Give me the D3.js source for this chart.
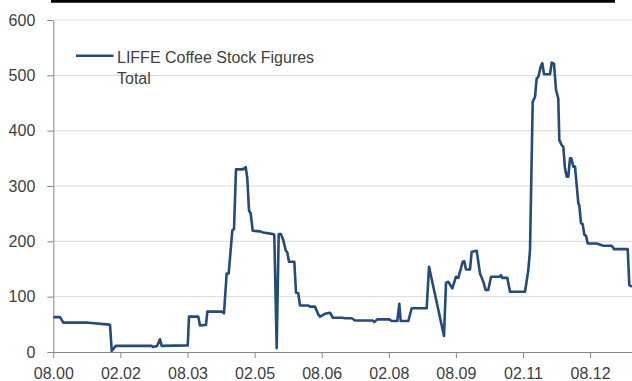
<!DOCTYPE html>
<html><head><meta charset="utf-8">
<script src="https://cdn.jsdelivr.net/npm/d3@7"></script>
<style>
html,body{margin:0;padding:0;background:#fff;}
svg{display:block;}
text{font-family:"Liberation Sans",Arial,sans-serif;fill:#404040;}
</style></head><body>
<svg id="chart" width="632" height="381"></svg>
<script>
// Decimal years (x) and stock values (y)
const stockDates = [2000.583,2000.733,2000.807,2001.365,2001.777,2001.851,2001.889,2001.978,2002.783,2002.812,2002.901,2002.968,2003.006,2003.588,2003.617,2003.824,2003.862,2003.997,2004.026,2004.348,2004.399,2004.459,2004.504,2004.585,2004.623,2004.667,2004.817,2004.884,2004.920,2004.958,2004.996,2005.041,2005.204,2005.278,2005.501,2005.523,2005.577,2005.622,2005.673,2005.725,2005.778,2005.814,2005.852,2005.971,2006.009,2006.060,2006.098,2006.284,2006.321,2006.433,2006.507,2006.545,2006.657,2006.769,2006.829,2007.030,2007.104,2007.254,2007.328,2007.723,2007.759,2007.826,2008.094,2008.148,2008.273,2008.318,2008.349,2008.519,2008.595,2008.930,2008.982,2009.317,2009.362,2009.413,2009.503,2009.585,2009.637,2009.735,2009.771,2009.809,2009.898,2009.936,2010.048,2010.122,2010.196,2010.249,2010.307,2010.368,2010.553,2010.591,2010.620,2010.732,2010.793,2011.128,2011.202,2011.240,2011.300,2011.352,2011.390,2011.425,2011.479,2011.515,2011.553,2011.687,2011.725,2011.776,2011.821,2011.872,2011.895,2011.948,2011.984,2012.022,2012.060,2012.096,2012.134,2012.163,2012.208,2012.246,2012.320,2012.342,2012.380,2012.418,2012.454,2012.492,2012.530,2012.731,2012.843,2012.894,2013.066,2013.117,2013.424,2013.460,2013.520];
const stockValues = [63,63,53,53,50,49,2,11,11,9,11,23,11,12,64,64,48,49,73,73,70,142,142,220,222,330,330,334,314,256,250,219,218,216,213,212,7,213,213,202,184,180,163,163,107,106,84,84,82,82,68,64,69,71,62,62,61,61,57,57,54,59,59,56,56,87,56,56,79,79,154,29,125,127,115,136,134,163,164,149,149,181,183,142,127,112,112,136,136,139,134,134,109,109,148,184,452,461,495,497,516,522,502,502,523,521,474,458,383,374,371,332,317,317,350,350,335,335,269,265,233,231,212,210,196,196,193,192,192,186,186,121,118];
const xTickValues = [2000.583,2002.083,2003.583,2005.083,2006.583,2008.083,2009.583,2011.083,2012.583];
const xTickLabels = ["08.00","02.02","08.03","02.05","08.06","02.08","08.09","02.11","08.12"];
const yTickValues = [0,100,200,300,400,500,600];
const seriesName = ["LIFFE Coffee Stock Figures","Total"];

const svg = d3.select("#chart");
const mLeft = 53.3, mRight = 632, mTop = 20, mBottom = 352;
const x = d3.scaleLinear().domain([2000.583, 2013.520]).range([mLeft, mRight]);
const y = d3.scaleLinear().domain([0, 600]).range([mBottom, mTop]);

// top black rule
svg.append("line").attr("x1",51).attr("x2",615).attr("y1",1.3).attr("y2",1.3)
  .attr("stroke","#000").attr("stroke-width",2.7);

// gridlines
svg.append("g").selectAll("line").data(yTickValues.filter(v=>v>0)).join("line")
  .attr("x1",mLeft).attr("x2",mRight).attr("y1",d=>y(d)).attr("y2",d=>y(d))
  .attr("stroke","#d9d9d9").attr("stroke-width",1);

// y axis
const ya = svg.append("g").attr("transform",`translate(${mLeft},0)`)
  .call(d3.axisLeft(y).tickValues(yTickValues).tickSize(6).tickSizeOuter(0).tickPadding(12));
ya.select(".domain").attr("stroke","#868686");
ya.selectAll(".tick line").attr("stroke","#868686");
ya.selectAll(".tick text").attr("font-size","16px").attr("fill","#404040")
  .attr("font-family","Liberation Sans, Arial, sans-serif");

// x axis
const xa = svg.append("g").attr("transform",`translate(0,${mBottom})`)
  .call(d3.axisBottom(x).tickValues(xTickValues).tickFormat((d,i)=>xTickLabels[i]).tickSize(6).tickSizeOuter(0).tickPadding(10));
xa.select(".domain").attr("stroke","#868686");
xa.selectAll(".tick line").attr("stroke","#868686");
xa.selectAll(".tick text").attr("font-size","16px").attr("fill","#404040")
  .attr("font-family","Liberation Sans, Arial, sans-serif");

// series line
const pts = stockDates.map((d,i)=>[d, stockValues[i]]);
svg.append("path").datum(pts)
  .attr("fill","none").attr("stroke","#234b7d").attr("stroke-width",2.6)
  .attr("stroke-linejoin","round")
  .attr("d", d3.line().x(d=>x(d[0])).y(d=>y(d[1])));

// legend
const lg = svg.append("g");
lg.append("line").attr("x1",76).attr("x2",113.5).attr("y1",55.7).attr("y2",55.7)
  .attr("stroke","#234b7d").attr("stroke-width",2.6);
lg.selectAll("text").data(seriesName).join("text")
  .attr("x",117).attr("y",(d,i)=>63.3 + i*21)
  .attr("font-size","16px").attr("fill","#404040").text(d=>d);
</script>
</body></html>
